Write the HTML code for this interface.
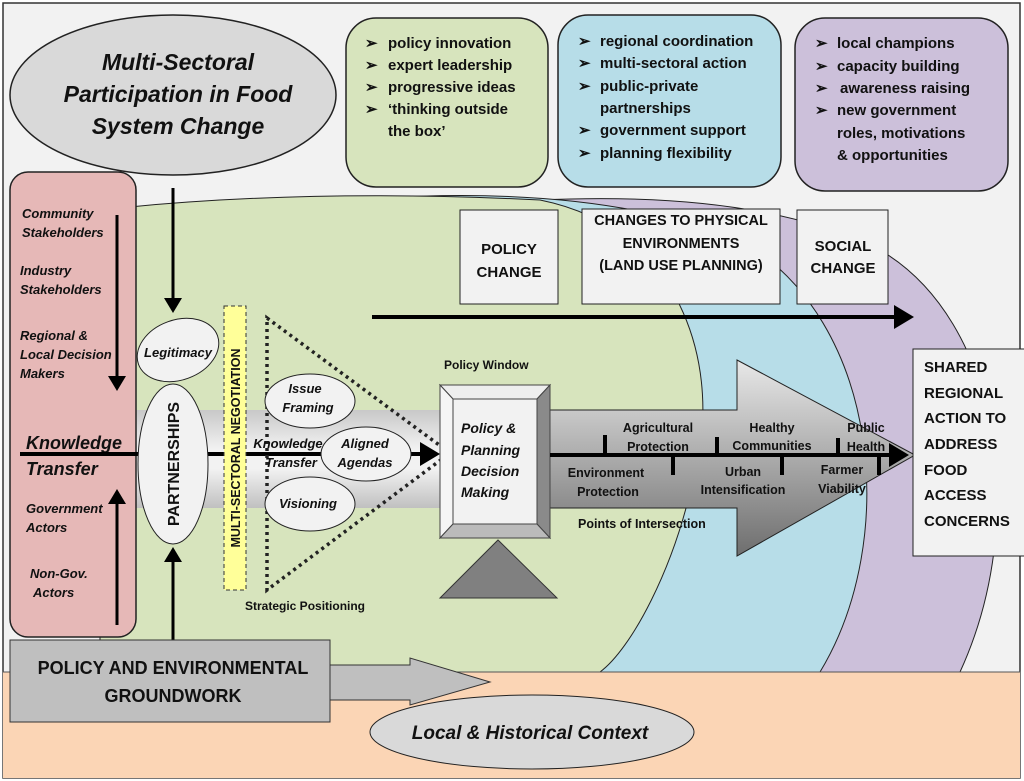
<!DOCTYPE html>
<html><head><meta charset="utf-8"><style>
html,body{margin:0;padding:0;background:#fff}
svg{display:block}
text{font-family:"Liberation Sans",sans-serif;font-weight:bold;fill:#111}
.i{font-style:italic}
</style></head><body>
<svg width="1024" height="781" viewBox="0 0 1024 781" xmlns="http://www.w3.org/2000/svg">
<defs>
<linearGradient id="band" x1="0" y1="0" x2="0" y2="1"><stop offset="0" stop-color="#c8c8c8"/><stop offset=".4" stop-color="#f2f2f2"/><stop offset=".6" stop-color="#f2f2f2"/><stop offset="1" stop-color="#c0c0c0"/></linearGradient>
<linearGradient id="arr" x1="0" y1="0" x2="0" y2="1"><stop offset="0" stop-color="#e8e8e8"/><stop offset="1" stop-color="#6e6e6e"/></linearGradient>
<marker id="ah" markerWidth="6" markerHeight="6" refX="4" refY="3" orient="auto" markerUnits="strokeWidth"><path d="M0,0 L5,3 L0,6 Z" fill="#000"/></marker>
</defs>
<rect x="0" y="0" width="1024" height="781" fill="#fff"/>
<rect x="3" y="3" width="1017" height="775" fill="#f2f2f2" stroke="#333" stroke-width="1.5"/>
<rect x="3" y="672" width="1017" height="106" fill="#fbd5b5" stroke="#555"/>
<path d="M540 200 Q760 190 880 250 C1000 320 1030 520 960 672 L600 672 Z" fill="#ccc0da" stroke="#222"/>
<path d="M380 198 Q600 185 740 240 C880 320 900 540 820 672 L500 672 Z" fill="#b7dde8" stroke="#222"/>
<path d="M100 210 Q300 188 540 200 C690 230 720 380 695 470 C675 570 630 650 600 672 L100 672 Z" fill="#d7e4bd" stroke="#222"/>
<rect x="3" y="672" width="1017" height="106" fill="#fbd5b5"/>
<line x1="3" y1="672" x2="1020" y2="672" stroke="#555"/>
<ellipse cx="173" cy="95" rx="163" ry="80" fill="#d9d9d9" stroke="#222" stroke-width="1.5"/>
<text class="i" font-size="23" text-anchor="middle"><tspan x="178" y="70">Multi-Sectoral</tspan><tspan x="178" y="102">Participation in Food</tspan><tspan x="178" y="134">System Change</tspan></text>
<rect x="346" y="18" width="202" height="169" rx="30" fill="#d7e4bd" stroke="#222" stroke-width="1.5"/>
<text font-size="15"><tspan x="365" y="48">➢</tspan><tspan x="388" y="48">policy innovation</tspan><tspan x="365" y="70">➢</tspan><tspan x="388" y="70">expert leadership</tspan><tspan x="365" y="92">➢</tspan><tspan x="388" y="92">progressive ideas</tspan><tspan x="365" y="114">➢</tspan><tspan x="388" y="114">‘thinking outside</tspan><tspan x="388" y="136">the box’</tspan></text>
<rect x="558" y="15" width="223" height="172" rx="30" fill="#b7dde8" stroke="#222" stroke-width="1.5"/>
<text font-size="15"><tspan x="578" y="46">➢</tspan><tspan x="600" y="46">regional coordination</tspan><tspan x="578" y="68">➢</tspan><tspan x="600" y="68">multi-sectoral action</tspan><tspan x="578" y="91">➢</tspan><tspan x="600" y="91">public-private</tspan><tspan x="600" y="113">partnerships</tspan><tspan x="578" y="135">➢</tspan><tspan x="600" y="135">government support</tspan><tspan x="578" y="158">➢</tspan><tspan x="600" y="158">planning flexibility</tspan></text>
<rect x="795" y="18" width="213" height="173" rx="30" fill="#ccc0da" stroke="#222" stroke-width="1.5"/>
<text font-size="15"><tspan x="815" y="48">➢</tspan><tspan x="837" y="48">local champions</tspan><tspan x="815" y="71">➢</tspan><tspan x="837" y="71">capacity building</tspan><tspan x="815" y="93">➢</tspan><tspan x="840" y="93">awareness raising</tspan><tspan x="815" y="115">➢</tspan><tspan x="837" y="115">new government</tspan><tspan x="837" y="138">roles, motivations</tspan><tspan x="837" y="160">&amp; opportunities</tspan></text>
<rect x="460" y="210" width="98" height="94" fill="#f2f2f2" stroke="#222"/>
<text font-size="15" text-anchor="middle"><tspan x="509" y="254">POLICY</tspan><tspan x="509" y="277">CHANGE</tspan></text>
<rect x="582" y="209" width="198" height="95" fill="#f2f2f2" stroke="#222"/>
<text font-size="14.5" text-anchor="middle"><tspan x="681" y="225">CHANGES TO PHYSICAL</tspan><tspan x="681" y="248">ENVIRONMENTS</tspan><tspan x="681" y="270">(LAND USE PLANNING)</tspan></text>
<rect x="797" y="210" width="91" height="94" fill="#f2f2f2" stroke="#222"/>
<text font-size="15" text-anchor="middle"><tspan x="843" y="251">SOCIAL</tspan><tspan x="843" y="273">CHANGE</tspan></text>
<line x1="372" y1="317" x2="910" y2="317" stroke="#000" stroke-width="4" marker-end="url(#ah)"/>
<rect x="136" y="410" width="310" height="98" fill="url(#band)"/>
<path d="M548 410 L737 410 L737 360 L915 455 L737 556 L737 508 L548 508 Z" fill="url(#arr)" stroke="#222"/>
<rect x="10" y="172" width="126" height="465" rx="18" fill="#e6b8b7" stroke="#222" stroke-width="1.5"/>
<text class="i" font-size="13"><tspan x="22" y="218">Community</tspan><tspan x="22" y="237">Stakeholders</tspan><tspan x="20" y="275">Industry</tspan><tspan x="20" y="294">Stakeholders</tspan><tspan x="20" y="340">Regional &amp;</tspan><tspan x="20" y="359">Local Decision</tspan><tspan x="20" y="378">Makers</tspan><tspan x="26" y="513">Government</tspan><tspan x="26" y="532">Actors</tspan><tspan x="30" y="578">Non-Gov.</tspan><tspan x="33" y="597">Actors</tspan></text>
<text class="i" font-size="18"><tspan x="26" y="449">Knowledge</tspan><tspan x="26" y="475">Transfer</tspan></text>
<line x1="117" y1="215" x2="117" y2="388" stroke="#000" stroke-width="3" marker-end="url(#ah)"/>
<line x1="117" y1="625" x2="117" y2="492" stroke="#000" stroke-width="3" marker-end="url(#ah)"/>
<line x1="20" y1="454" x2="436" y2="454" stroke="#000" stroke-width="4" marker-end="url(#ah)"/>
<line x1="173" y1="188" x2="173" y2="310" stroke="#000" stroke-width="3" marker-end="url(#ah)"/>
<line x1="173" y1="640" x2="173" y2="550" stroke="#000" stroke-width="3" marker-end="url(#ah)"/>
<ellipse cx="178" cy="350" rx="42" ry="30" transform="rotate(-20 178 350)" fill="#f2f2f2" stroke="#222"/>
<text class="i" font-size="13" text-anchor="middle" x="178" y="357">Legitimacy</text>
<ellipse cx="173" cy="464" rx="35" ry="80" fill="#f2f2f2" stroke="#222"/>
<text font-size="16" text-anchor="middle" transform="translate(179 464) rotate(-90)">PARTNERSHIPS</text>
<rect x="224" y="306" width="22" height="284" fill="#ffff99" stroke="#333" stroke-dasharray="4 3"/>
<text font-size="12.5" text-anchor="middle" transform="translate(240 448) rotate(-90)">MULTI-SECTORAL NEGOTIATION</text>
<path d="M267 318 L450 453 L267 590 Z" fill="none" stroke="#222" stroke-width="3.5" stroke-dasharray="3 4"/>
<ellipse cx="310" cy="401" rx="45" ry="27" fill="#f2f2f2" stroke="#222"/>
<text class="i" font-size="13" text-anchor="middle"><tspan x="305" y="393">Issue</tspan><tspan x="308" y="412">Framing</tspan></text>
<ellipse cx="366" cy="454" rx="45" ry="27" fill="#f2f2f2" stroke="#222"/>
<text class="i" font-size="13" text-anchor="middle"><tspan x="365" y="448">Aligned</tspan><tspan x="365" y="467">Agendas</tspan></text>
<text class="i" font-size="13" text-anchor="middle"><tspan x="288" y="448">Knowledge</tspan><tspan x="291" y="467">Transfer</tspan></text>
<ellipse cx="310" cy="504" rx="45" ry="27" fill="#f2f2f2" stroke="#222"/>
<text class="i" font-size="13" text-anchor="middle" x="308" y="508">Visioning</text>
<text font-size="12" x="245" y="610">Strategic Positioning</text>
<text font-size="12" x="444" y="369">Policy Window</text>
<rect x="440" y="385" width="110" height="153" fill="#c8c8c8" stroke="#222"/>
<path d="M440 385 L550 385 L537 399 L453 399 Z" fill="#eee" stroke="#444"/>
<path d="M440 385 L453 399 L453 524 L440 538 Z" fill="#f5f5f5" stroke="#444"/>
<path d="M550 385 L537 399 L537 524 L550 538 Z" fill="#8a8a8a" stroke="#444"/>
<path d="M440 538 L453 524 L537 524 L550 538 Z" fill="#bbb" stroke="#444"/>
<rect x="453" y="399" width="84" height="125" fill="#f2f2f2" stroke="#444"/>
<text class="i" font-size="14"><tspan x="461" y="433">Policy &amp;</tspan><tspan x="461" y="455">Planning</tspan><tspan x="461" y="476">Decision</tspan><tspan x="461" y="497">Making</tspan></text>
<path d="M440 598 L557 598 L498 540 Z" fill="#808080" stroke="#333"/>
<line x1="550" y1="455" x2="905" y2="455" stroke="#000" stroke-width="4" marker-end="url(#ah)"/>
<g stroke="#000" stroke-width="4"><line x1="605" y1="435" x2="605" y2="455"/><line x1="673" y1="455" x2="673" y2="475"/><line x1="717" y1="437" x2="717" y2="455"/><line x1="782" y1="455" x2="782" y2="475"/><line x1="838" y1="438" x2="838" y2="455"/><line x1="879" y1="455" x2="879" y2="475"/></g>
<text font-size="12.5" text-anchor="middle"><tspan x="658" y="432">Agricultural</tspan><tspan x="658" y="451">Protection</tspan><tspan x="772" y="432">Healthy</tspan><tspan x="772" y="450">Communities</tspan><tspan x="866" y="432">Public</tspan><tspan x="866" y="451">Health</tspan><tspan x="606" y="477">Environment</tspan><tspan x="608" y="496">Protection</tspan><tspan x="743" y="476">Urban</tspan><tspan x="743" y="494">Intensification</tspan><tspan x="842" y="474">Farmer</tspan><tspan x="842" y="493">Viability</tspan></text>
<text font-size="12.5" x="578" y="528">Points of Intersection</text>
<rect x="913" y="349" width="115" height="207" fill="#f2f2f2" stroke="#222"/>
<text font-size="15"><tspan x="924" y="372">SHARED</tspan><tspan x="924" y="398">REGIONAL</tspan><tspan x="924" y="423">ACTION TO</tspan><tspan x="924" y="449">ADDRESS</tspan><tspan x="924" y="475">FOOD</tspan><tspan x="924" y="500">ACCESS</tspan><tspan x="924" y="526">CONCERNS</tspan></text>
<path d="M330 665 L410 665 L410 658 L490 682 L410 705 L410 700 L330 700 Z" fill="#bfbfbf" stroke="#333"/>
<rect x="10" y="640" width="320" height="82" fill="#bfbfbf" stroke="#333"/>
<text font-size="18" text-anchor="middle"><tspan x="173" y="674">POLICY AND ENVIRONMENTAL</tspan><tspan x="173" y="702">GROUNDWORK</tspan></text>
<ellipse cx="532" cy="732" rx="162" ry="37" fill="#d9d9d9" stroke="#222"/>
<text class="i" font-size="19" text-anchor="middle" x="530" y="739">Local &amp; Historical Context</text>
</svg>
</body></html>
